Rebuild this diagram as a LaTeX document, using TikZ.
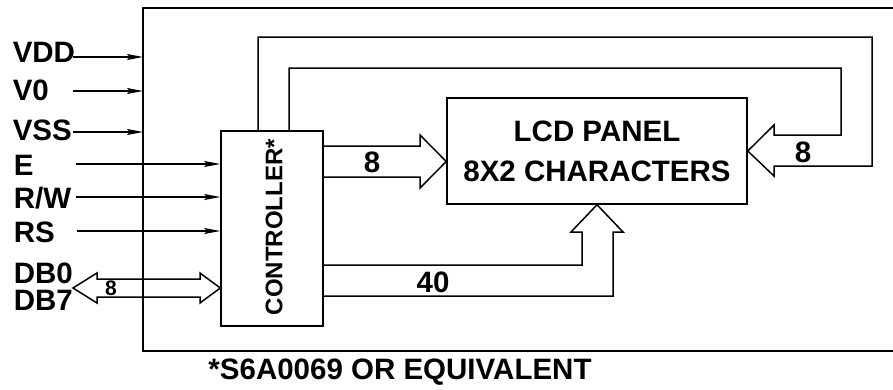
\documentclass[tikz,border=0pt]{standalone}
\usepackage{fontspec}
\setmainfont{Liberation Sans}
\usetikzlibrary{arrows.meta}

\begin{document}
\begin{tikzpicture}[x=1pt,y=-1pt,line width=1.5pt,
	font=\bfseries\fontsize{29.5}{40}\selectfont,
	>={Stealth[length=16pt,width=6pt,inset=3pt]},
	lbl/.style={anchor=west,inner sep=0pt}]
	\useasboundingbox (0,0) rectangle (893,389);
	% outer frame, open to the right
	\coordinate (frametl) at (143,8);
	\draw (893,8) -- (frametl) -- (143,351) -- (893,351);
	\node[draw, minimum width=102pt, minimum height=195pt] (ctrl) at (272,228.4) {};
	\node[rotate=90, font=\bfseries\fontsize{24}{26}\selectfont] (ctrltxt) at (274,227) {CONTROLLER*};
	\node[draw, minimum width=300pt, minimum height=106pt, align=center] (lcd) at (597,151) {LCD PANEL\\8X2 CHARACTERS};
	% inputs
	\node[lbl] (vdd) at (12,52) {VDD};
	\node[lbl] (v0) at (12,90) {V0};
	\node[lbl] (vss) at (12,130) {VSS};
	\node[lbl] (e) at (13,165) {E};
	\node[lbl] (rw) at (13,198) {R/W};
	\node[lbl] (rs) at (13,232) {RS};
	\node[lbl] (db0) at (13,273) {DB0};
	\node[lbl] (db7) at (13,300) {DB7};
	\coordinate (vddin) at (73,57);
	\coordinate (v0in) at (73,91);
	\coordinate (vssin) at (73,132);
	\coordinate (ein) at (76,164);
	\coordinate (rwin) at (76,197);
	\coordinate (rsin) at (77,231);
	\draw[->] (vddin) -- (vddin -| frametl);
	\draw[->] (v0in) -- (v0in -| frametl);
	\draw[->] (vssin) -- (vssin -| frametl);
	\draw[->] (ein) -- (ein -| ctrl.west);
	\draw[->] (rwin) -- (rwin -| ctrl.west);
	\draw[->] (rsin) -- (rsin -| ctrl.west);
	% data bus
	\draw (73,288) -- (97,273) -- (97,279) -- (200,279) -- (200,273) -- (ctrl.west |- 0,288)
		-- (200,303) -- (200,297) -- (97,297) -- (97,303) -- cycle;
	\node[font=\bfseries\fontsize{21}{22}\selectfont] (dbw) at (111,288) {8};
	% controller to panel
	\draw (ctrl.east |- 0,146) -- (420,146) -- (420,135) -- (lcd.west |- 0,161.5)
		-- (420,188) -- (420,177) -- (ctrl.east |- 0,177);
	\node (segw) at (372,162) {8};
	\draw (258,0 |- ctrl.north) -- (258,37) -- (872,37) -- (872,166) -- (774,166) -- (774,176)
		-- (lcd.east) -- (774,125) -- (774,135) -- (841,135) -- (841,68) -- (289,68) -- (289,0 |- ctrl.north);
	\node (comw) at (803,152) {8};
	\draw (ctrl.east |- 0,265) -- (582,265) -- (582,232) -- (571,232) -- (597,0 |- lcd.south)
		-- (623,232) -- (613,232) -- (613,296) -- (ctrl.east |- 0,296);
	\node (drvw) at (433,282) {40};
	\node (note) at (400,372) {*S6A0069 OR EQUIVALENT};
\end{tikzpicture}
\end{document}
